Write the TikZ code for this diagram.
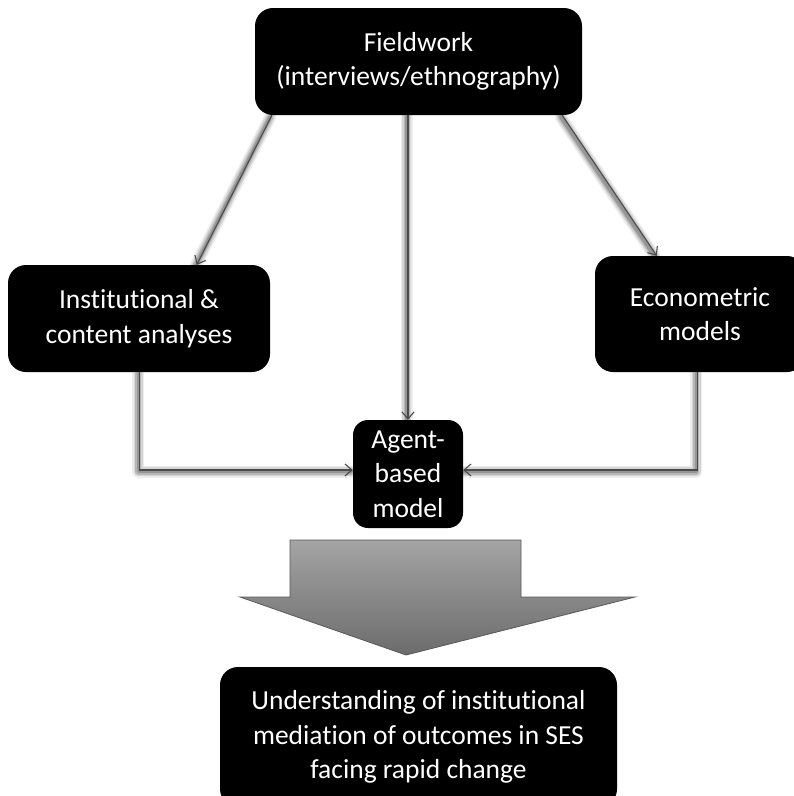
\documentclass[tikz,border=0pt]{standalone}
\usepackage{fontspec}
\setmainfont{Carlito}[Ligatures={NoCommon,NoContextual}]
\usetikzlibrary{arrows.meta,calc}
\definecolor{arrowtop}{HTML}{A4A4A4}
\definecolor{arrowbot}{HTML}{6C6C6C}
\definecolor{linkgray}{HTML}{4A4A4A}
% a connector with a soft grey shadow underneath
\newcommand\softlink[1]{%
  \foreach \w/\o in {12/0.07,9/0.1,6/0.14,3.5/0.18}{%
    \draw[black, opacity=\o, line width=\w pt, line cap=round, line join=round,
          transform canvas={shift={(-1.5pt,-1.5pt)}}] #1;}%
  \draw[link] #1;}
\begin{document}
\begin{tikzpicture}[x=1pt, y=-1pt,
  box/.style={fill=black, text=white, rounded corners=18pt, align=center,
              font=\fontsize{27.5}{34.5}\selectfont, inner sep=0pt},
  link/.style={draw=linkgray, line width=1.1pt,
               -{Straight Barb[length=7pt,width=12pt]}}]
  \clip (0,0) rectangle (794,796);

  % boxes
  \node[box, minimum width=327pt, minimum height=107pt] (fw) at (418.5,61.5)
    {Fieldwork\\(interviews/ethnography)};
  \node[box, minimum width=262pt, minimum height=107pt] (inst) at (139,318.5)
    {Institutional \&\\content analyses};
  \node[box, minimum width=210pt, minimum height=116pt, text width=200pt] (eco) at (700,314)
    {Econometric\\models};
  \node[box, minimum width=110pt, minimum height=108pt, rounded corners=15pt] (ag) at (408,474)
    {Agent-\\based\\model};
  \node[box, minimum width=397pt, minimum height=140pt] (out) at (418.5,737)
    {Understanding of institutional\\mediation of outcomes in SES\\facing rapid change};

  % connectors
  \softlink{($(fw.south west)+(17,0)$) -- ($(inst.north west)+(189,0)$)}
  \softlink{(ag.north |- fw.south) -- (ag.north)}
  \softlink{($(fw.south east)+(-20,0)$) -- ($(eco.north west)+(62,0)$)}
  \softlink{($(inst.south west)+(132,0)$) |- ($(ag.west)+(0,-4)$)}
  \softlink{($(eco.south west)+(103,0)$) |- ($(ag.east)+(0,-4)$)}

  % block arrow towards the outcome
  \draw[draw=gray!70!black, line width=0.8pt, top color=arrowtop, bottom color=arrowbot]
    (290,540) -- (521,540) -- (521,597) -- (635,597) -- (406,655) -- (240,597) -- (290,597) -- cycle;
\end{tikzpicture}
\end{document}
